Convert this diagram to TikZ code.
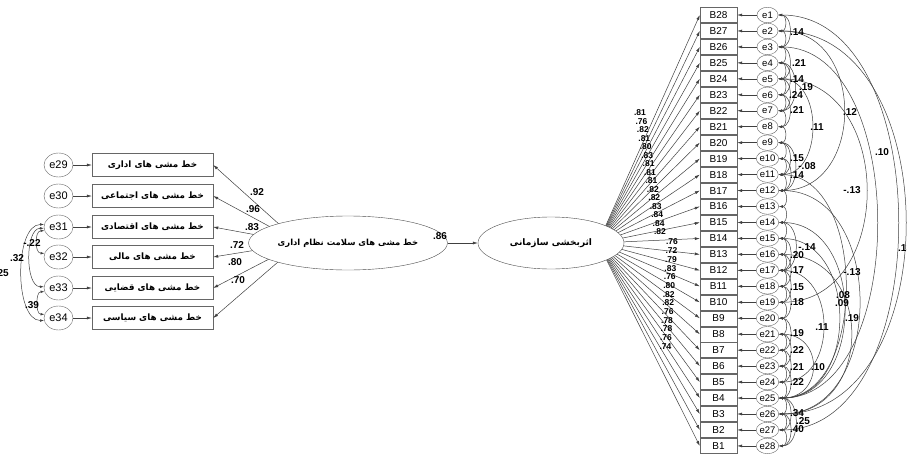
\documentclass[tikz,border=0pt]{standalone}
\usepackage{fontspec}
\setmainfont{Liberation Sans}
\newfontfamily\arabicfont[Script=Arabic]{DejaVu Sans}
\TeXXeTstate=1
\usetikzlibrary{shapes.geometric,arrows.meta}
\begin{document}
\begin{tikzpicture}[x=1pt,y=-1pt,
  line/.style={draw=black!75, line width=0.5pt},
  arr/.style={line, -{Latex[length=5pt,width=3pt]}},
  cov/.style={line, {Latex[length=4pt,width=2.6pt]}-{Latex[length=4pt,width=2.6pt]}},
  lbox/.style={draw=black!60, fill=white, minimum width=121pt, minimum height=23pt, inner sep=0pt, font=\arabicfont\bfseries\fontsize{8.8}{10}\selectfont},
  lerr/.style={ellipse, draw=black!60, fill=white, minimum width=29pt, minimum height=24pt, inner sep=0pt, font=\fontsize{11}{12}\selectfont},
  bbox/.style={draw=black!60, fill=white, minimum width=37pt, minimum height=15pt, inner sep=0pt, font=\fontsize{10}{10}\selectfont},
  enode/.style={ellipse, draw=black!60, fill=white, minimum width=21pt, minimum height=15.5pt, inner sep=0pt, font=\fontsize{9.5}{10}\selectfont},
  latent/.style={ellipse, draw=black!70, fill=white, inner sep=0pt, font=\arabicfont\bfseries\fontsize{8.4}{9}\selectfont},
  lab/.style={font=\bfseries\fontsize{10}{10}\selectfont, inner sep=0pt},
  rlab/.style={font=\bfseries\fontsize{8.5}{9}\selectfont, inner sep=0pt},
]
\useasboundingbox (0,0) rectangle (907,455);
\fill[white] (0,0) rectangle (907,455);

% ---------- left block ----------
\node[lbox] (b1) at (152.5,165) {\beginR خط مشی های اداری\endR};
\node[lbox] (b2) at (152.5,196) {\beginR خط مشی های اجتماعی\endR};
\node[lbox] (b3) at (152.5,227) {\beginR خط مشی های اقتصادی\endR};
\node[lbox] (b4) at (152.5,257) {\beginR خط مشی های مالی\endR};
\node[lbox] (b5) at (152.5,288) {\beginR خط مشی های قضایی\endR};
\node[lbox] (b6) at (152.5,318) {\beginR خط مشی های سیاسی\endR};

\node[lerr] (e29) at (58.5,165) {e29};
\node[lerr] (e30) at (58.5,196) {e30};
\node[lerr] (e31) at (58.5,227) {e31};
\node[lerr] (e32) at (58.5,257) {e32};
\node[lerr] (e33) at (58.5,288) {e33};
\node[lerr] (e34) at (58.5,318) {e34};

\draw[arr] (e29) -- (b1);
\draw[arr] (e30) -- (b2);
\draw[arr] (e31) -- (b3);
\draw[arr] (e32) -- (b4);
\draw[arr] (e33) -- (b5);
\draw[arr] (e34) -- (b6);

% left covariances
\draw[cov] (e31.195) .. controls +(-10,0) and +(-10,0) .. (e32.165);
\draw[cov] (e31.185) .. controls +(-19,0) and +(-19,0) .. (e33.175);
\draw[cov] (e31.170) .. controls +(-30,0) and +(-30,0) .. (e34.190);
\draw[cov] (e33.195) .. controls +(-9,0) and +(-9,0) .. (e34.165);
\node[lab] at (32,243) {-.22};
\node[lab] at (17,258) {.32};
\node[lab, anchor=east] at (9,273) {.25};
\node[lab] at (32,305) {.39};

% left loadings
\coordinate (Lh) at (300,243);
\draw[arr] (Lh) -- (b1.east);
\draw[arr] (Lh) -- (b2.east);
\draw[arr] (Lh) -- (b3.east);
\draw[arr] (Lh) -- (b4.east);
\draw[arr] (Lh) -- (b5.east);
\draw[arr] (Lh) -- (b6.east);
\node[latent, minimum width=144pt, minimum height=54pt] (L) at (348,243) {\beginR خط مشی های سلامت نظام اداری\endR};
\node[lab] at (257,192) {.92};
\node[lab] at (253,209) {.96};
\node[lab] at (252,227) {.83};
\node[lab] at (237,245) {.72};
\node[lab] at (235,262) {.80};
\node[lab] at (238,280) {.70};

% ---------- right block ----------
\foreach \i in {1,...,28}{
  \pgfmathtruncatemacro\k{29-\i}
  \pgfmathsetmacro\yy{15+(\i-1)*15.96}
  \node[bbox] (B\k) at (718.5,\yy) {B\k};
  \node[enode] (e\i) at (767.5,\yy) {e\i};
}
\foreach \i in {1,...,28}{
  \pgfmathtruncatemacro\k{29-\i}
  \draw[arr] (e\i) -- (B\k);
}
\coordinate (Rh) at (598,243);
\foreach \k in {1,...,28}{
  \draw[arr] (Rh) -- (B\k.west);
}
\node[latent, minimum width=146pt, minimum height=52pt, font=\arabicfont\bfseries\fontsize{9}{10}\selectfont] (R) at (551,243) {\beginR اثربخشی سازمانی\endR};

\draw[arr] (L) -- (R);
\node[lab] at (440,236) {.86};

% right loadings labels
\foreach \v [count=\c] in {.81,.76,.82,.81,.80,.83,.81,.81,.81,.82,.82,.83,.84,.84,.82}{
  \node[rlab] at ({640+(\c-1)*1.43},{113+(\c-1)*8.5}) {\v};
}
\foreach \v [count=\c] in {.76,.72,.79,.83,.76,.80,.82,.82,.76,.78,.78,.76,.74}{
  \node[rlab] at ({672-(\c-1)*0.55},{242+(\c-1)*8.7}) {\v};
}

% short covariances (adjacent)
\foreach \i in {1,...,27}{
  \pgfmathtruncatemacro\j{\i+1}
  \draw[cov] (e\i.east) .. controls +(9,0) and +(9,0) .. (e\j.east);
}
% covariances spanning two
\foreach \i/\j in {1/3,3/5,4/6,5/7,6/8,9/11,10/12,15/17,16/18,17/19,18/20,20/22,21/23,22/24,23/25,25/27,26/28}{
  \draw[cov] (e\i.east) .. controls +(15,0) and +(15,0) .. (e\j.east);
}
% covariances spanning three
\foreach \i/\j in {4/7,9/12,14/17,25/28}{
  \draw[cov] (e\i.east) .. controls +(22,0) and +(22,0) .. (e\j.east);
}
% long covariances
\foreach \i/\j/\d in {2/26/169,1/27/159,3/25/131,2/12/87,5/11/45,5/19/117,11/25/89,12/26/107,14/25/87,15/25/80,16/26/96,17/24/59,21/25/45}{
  \draw[cov] (e\i.east) .. controls +(\d,0) and +(\d,0) .. (e\j.east);
}

% covariance labels
\node[lab] at (797,32) {.14};
\node[lab] at (799,63) {.21};
\node[lab] at (797,79) {.14};
\node[lab] at (806,87) {.19};
\node[lab] at (796,95) {.24};
\node[lab] at (797,110) {.21};
\node[lab] at (797,158) {.15};
\node[lab] at (807,166) {-.08};
\node[lab] at (797,175) {.14};
\node[lab] at (807,247) {-.14};
\node[lab] at (797,255) {.20};
\node[lab] at (797,270) {.17};
\node[lab] at (797,287) {.15};
\node[lab] at (797,302) {.18};
\node[lab] at (797,333) {.19};
\node[lab] at (797,350) {.22};
\node[lab] at (797,367) {.21};
\node[lab] at (797,382) {.22};
\node[lab] at (797,413) {.34};
\node[lab] at (803,421) {.25};
\node[lab] at (797,429) {.40};

\node[lab] at (850,112) {.12};
\node[lab] at (817,127) {.11};
\node[lab] at (882,152) {.10};
\node[lab] at (852,190) {-.13};
\node[lab, anchor=west] at (898,248) {.13};
\node[lab] at (852,272) {-.13};
\node[lab] at (843,295) {.08};
\node[lab] at (842,303) {.09};
\node[lab] at (852,318) {.19};
\node[lab] at (822,327) {.11};
\node[lab] at (818,367) {.10};
\end{tikzpicture}
\end{document}
